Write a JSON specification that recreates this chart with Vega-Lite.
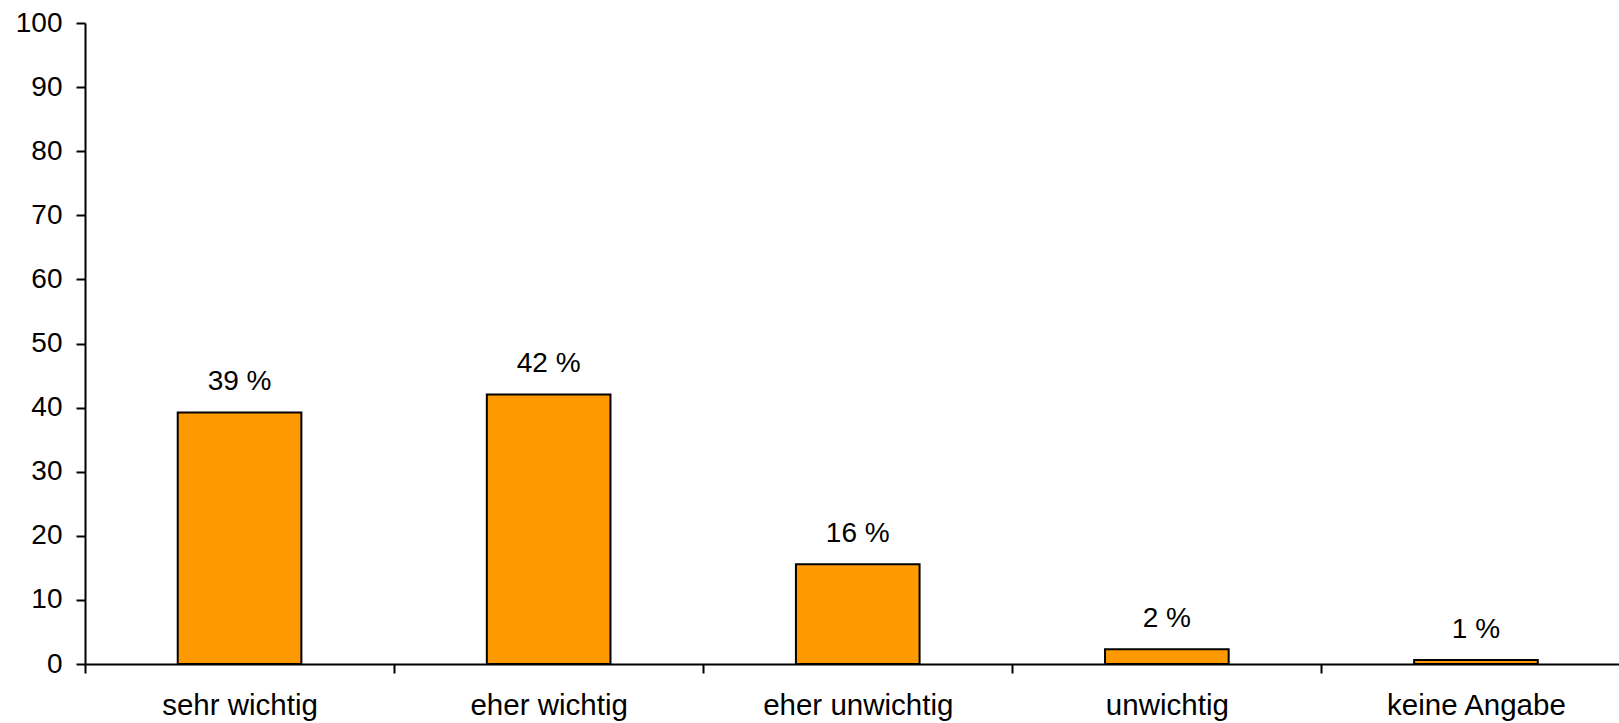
{
  "$schema": "https://vega.github.io/schema/vega-lite/v6.json",
  "autosize": "none",
  "padding": {"left": 85, "top": 23, "right": 0, "bottom": 59},
  "width": 1534,
  "height": 641,
  "background": "white",
  "config": {
    "view": {"stroke": null},
    "font": "Liberation Sans",
    "axis": {
      "grid": false,
      "domainColor": "black",
      "domainWidth": 2,
      "tickColor": "black",
      "tickWidth": 2,
      "tickSize": 9,
      "labelColor": "black",
      "labelFont": "Liberation Sans",
      "labelFontSize": 28,
      "labelLimit": 0,
      "title": null
    }
  },
  "data": {
    "values": [
      {"antwort": "sehr wichtig", "pct": 39.25},
      {"antwort": "eher wichtig", "pct": 42.05},
      {"antwort": "eher unwichtig", "pct": 15.55},
      {"antwort": "unwichtig", "pct": 2.3},
      {"antwort": "keine Angabe", "pct": 0.62}
    ]
  },
  "transform": [
    {"calculate": "format(datum.pct, '.0f') + ' %'", "as": "label"}
  ],
  "encoding": {
    "x": {
      "field": "antwort",
      "type": "nominal",
      "sort": null,
      "scale": {"range": [0, 1545.5], "paddingInner": 0, "paddingOuter": 0},
      "axis": {
        "labelAngle": 0,
        "tickBand": "extent",
        "labelPadding": 18,
        "labelFontSize": 29.5,
        "labelBaseline": "top"
      }
    },
    "y": {
      "field": "pct",
      "type": "quantitative",
      "scale": {"domain": [0, 100], "nice": false},
      "axis": {
        "values": [0, 10, 20, 30, 40, 50, 60, 70, 80, 90, 100],
        "labelPadding": 14
      }
    }
  },
  "layer": [
    {
      "mark": {
        "type": "bar",
        "color": "#FF9900",
        "stroke": "black",
        "strokeWidth": 2,
        "width": {"band": 0.4}
      }
    },
    {
      "mark": {
        "type": "text",
        "baseline": "alphabetic",
        "dy": -22,
        "fontSize": 28,
        "font": "Liberation Sans",
        "color": "black"
      },
      "encoding": {"text": {"field": "label"}}
    }
  ]
}
